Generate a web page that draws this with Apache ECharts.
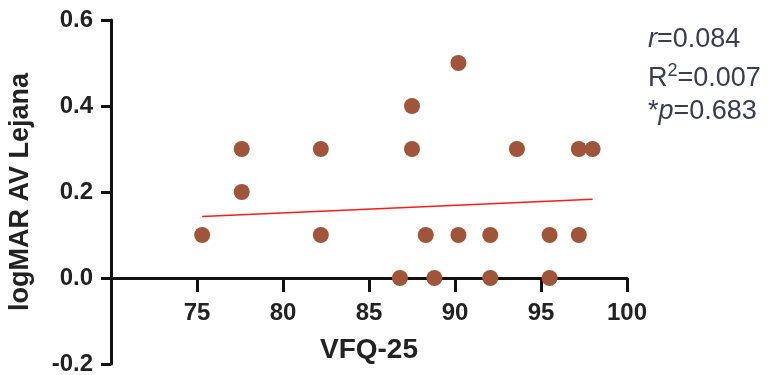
<!DOCTYPE html>
<html>
<head>
<meta charset="utf-8">
<script src="https://cdn.jsdelivr.net/npm/echarts@6/dist/echarts.min.js"></script>
<style>
  html, body { margin: 0; padding: 0; background: #fff; }
  #chart { width: 768px; height: 375px; }
</style>
</head>
<body>
<div id="chart"></div>
<script>
// scatter points
var vfq = [75.3, 77.6, 77.6, 82.2, 82.2, 86.8, 87.5, 87.5, 88.3, 88.8, 90.2, 90.2, 92.05, 92.05, 93.6, 95.5, 95.5, 97.2, 97.2, 98.0];
var logmar = [0.1, 0.3, 0.2, 0.3, 0.1, 0.0, 0.4, 0.3, 0.1, 0.0, 0.5, 0.1, 0.1, 0.0, 0.3, 0.1, 0.0, 0.3, 0.1, 0.3];
// regression line end points
var fitX = [75.3, 98.0];
var fitY = [0.143, 0.183];
var statR = "0.084";
var statR2 = "0.007";
var statP = "0.683";

var font = "Liberation Sans, Arial, Helvetica, sans-serif";
var chart = echarts.init(document.getElementById("chart"));

var points = vfq.map(function (v, i) { return [v, logmar[i]]; });
var fit = fitX.map(function (v, i) { return [v, fitY[i]]; });

chart.setOption({
  animation: false,
  grid: { left: 111, top: 20, width: 516, height: 344, outerBoundsMode: "none", containLabel: false },
  xAxis: {
    type: "value",
    min: 70,
    max: 100,
    interval: 5,
    name: "VFQ-25",
    nameLocation: "middle",
    // labels and name sit under the zero line, not under the grid bottom
    nameGap: -28,
    nameMoveOverlap: false,
    nameTextStyle: { fontFamily: font, fontWeight: "bold", fontSize: 28, color: "#222" },
    axisLine: { onZero: true, lineStyle: { color: "#111", width: 3 } },
    axisTick: { length: 14, lineStyle: { color: "#111", width: 3 } },
    axisLabel: {
      margin: -63,
      fontFamily: font,
      fontWeight: "bold",
      fontSize: 24,
      color: "#222",
      formatter: function (v) { return v === 70 ? "" : v; }
    },
    splitLine: { show: false }
  },
  yAxis: {
    type: "value",
    min: -0.2,
    max: 0.6,
    interval: 0.2,
    name: "logMAR AV Lejana",
    nameLocation: "middle",
    nameGap: 77,
    nameTextStyle: { fontFamily: font, fontWeight: "bold", fontSize: 27, color: "#222" },
    axisLine: { show: true, lineStyle: { color: "#111", width: 3 } },
    axisTick: { show: true, length: 10, lineStyle: { color: "#111", width: 3 } },
    axisLabel: {
      margin: 18,
      fontFamily: font,
      fontWeight: "bold",
      fontSize: 24,
      color: "#222",
      formatter: function (v) { return v.toFixed(1); }
    },
    splitLine: { show: false }
  },
  graphic: [
    {
      type: "text", left: 648, top: 26,
      style: {
        text: "{i|r}=" + statR,
        font: "27px " + font, fill: "#3b3b52",
        rich: { i: { fontStyle: "italic", fontSize: 27, fontFamily: font, fill: "#3b3b52" } }
      }
    },
    {
      type: "text", left: 648, top: 62,
      style: {
        text: "R{s|2}=" + statR2,
        font: "27px " + font, fill: "#3b3b52",
        rich: { s: { fontSize: 18, fontFamily: font, verticalAlign: "top", fill: "#3b3b52", padding: [0, 0, 16, 0] } }
      }
    },
    {
      type: "text", left: 648, top: 98,
      style: {
        text: "*{i|p}=" + statP,
        font: "27px " + font, fill: "#3b3b52",
        rich: { i: { fontStyle: "italic", fontSize: 27, fontFamily: font, fill: "#3b3b52" } }
      }
    }
  ],
  series: [
    {
      type: "line",
      data: fit,
      symbol: "none",
      lineStyle: { color: "#ff1a1a", width: 1.5 },
      z: 1
    },
    {
      type: "scatter",
      data: points,
      symbolSize: 16,
      itemStyle: { color: "#a0553a", opacity: 1 },
      z: 3
    }
  ]
});
</script>
</body>
</html>
